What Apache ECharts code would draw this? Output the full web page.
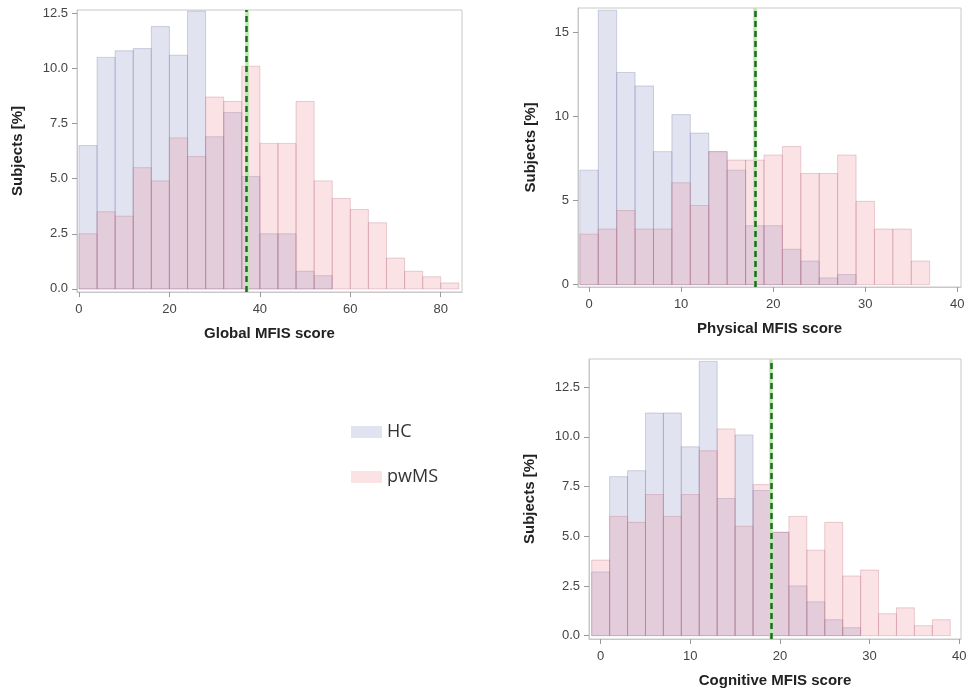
<!DOCTYPE html>
<html>
<head>
<meta charset="utf-8">
<script src="https://cdn.jsdelivr.net/npm/echarts@6/dist/echarts.min.js"></script>
<style>
  html, body { margin: 0; padding: 0; background: #fff; }
  #chart { width: 970px; height: 691px; }
</style>
</head>
<body>
<div id="chart"></div>
<script>
// bin edges (score) and percentages of subjects per bin
var globalEdges = [0, 4, 8, 12, 16, 20, 24, 28, 32, 36, 40, 44, 48, 52, 56, 60, 64, 68, 72, 76, 80, 84];
var globalHC = [6.5, 10.5, 10.8, 10.9, 11.9, 10.6, 12.6, 6.9, 8.0, 5.1, 2.5, 2.5, 0.8, 0.6, 0, 0, 0, 0, 0, 0, 0];
var globalMS = [2.5, 3.5, 3.3, 5.5, 4.9, 6.85, 6.0, 8.7, 8.5, 10.1, 6.6, 6.6, 8.5, 4.9, 4.1, 3.6, 3.0, 1.4, 0.8, 0.55, 0.27];

var physEdges = [-1, 1, 3, 5, 7, 9, 11, 13, 15, 17, 19, 21, 23, 25, 27, 29, 31, 33, 35, 37];
var physHC = [6.8, 16.3, 12.6, 11.8, 7.9, 10.1, 9.0, 7.9, 6.8, 3.5, 3.5, 2.1, 1.4, 0.4, 0.6, 0, 0, 0, 0];
var physMS = [3.0, 3.3, 4.4, 3.3, 3.3, 6.05, 4.7, 7.9, 7.4, 7.4, 7.7, 8.2, 6.6, 6.6, 7.7, 4.95, 3.3, 3.3, 1.4];

var cogEdges = [-1, 1, 3, 5, 7, 9, 11, 13, 15, 17, 19, 21, 23, 25, 27, 29, 31, 33, 35, 37, 39];
var cogHC = [3.2, 8.0, 8.3, 11.2, 11.2, 9.5, 13.8, 6.9, 10.1, 7.3, 5.2, 2.5, 1.7, 0.8, 0.4, 0, 0, 0, 0, 0];
var cogMS = [3.8, 6.0, 5.7, 7.1, 6.0, 7.1, 9.3, 10.4, 5.5, 7.6, 5.2, 6.0, 4.3, 5.7, 3.0, 3.3, 1.1, 1.4, 0.5, 0.8];

// cut-off scores (dashed lines)
var cutoffs = [37, 18, 19];

var titles = ['Global MFIS score', 'Physical MFIS score', 'Cognitive MFIS score'];
var xTicks = [[0, 20, 40, 60, 80], [0, 10, 20, 30, 40], [0, 10, 20, 30, 40]];
var yTicks = [[0, 2.5, 5, 7.5, 10, 12.5], [0, 5, 10, 15], [0, 2.5, 5, 7.5, 10, 12.5]];
var xRange = [[-0.44, 84.7], [-1.2, 40.4], [-1.3, 40.2]];
var yRange = [[-0.14, 12.65], [-0.14, 16.43], [-0.17, 13.92]];

var panels = [
  { edges: globalEdges, hc: globalHC, ms: globalMS },
  { edges: physEdges, hc: physHC, ms: physMS },
  { edges: cogEdges, hc: cogHC, ms: cogMS }
];

var grids = [
  { left: 77, top: 10, width: 385, height: 282 },
  { left: 578, top: 8, width: 383, height: 279 },
  { left: 589, top: 359, width: 372, height: 280 }
];

var HC_FILL = 'rgba(163,170,212,0.33)';
var HC_LINE = 'rgba(115,115,165,0.3)';
var MS_FILL = 'rgba(236,140,152,0.25)';
var MS_LINE = 'rgba(185,110,130,0.3)';

function bins(edges, vals) {
  var out = [];
  for (var i = 0; i < vals.length; i++) {
    if (vals[i] > 0) out.push([edges[i], edges[i + 1], vals[i]]);
  }
  return out;
}

function renderBar(params, api) {
  var p0 = api.coord([api.value(0), 0]);
  var p1 = api.coord([api.value(1), api.value(2)]);
  return {
    type: 'rect',
    shape: { x: p0[0], y: p1[1], width: p1[0] - p0[0], height: p0[1] - p1[1] },
    style: api.style()
  };
}

var labelFont = { fontFamily: 'Liberation Sans', fontSize: 13, color: '#444' };
var nameFont = { fontFamily: 'Liberation Sans', fontSize: 15, fontWeight: 'bold', color: '#222' };

var xAxes = [], yAxes = [], series = [];
panels.forEach(function (p, i) {
  var oneDec = i !== 1;
  xAxes.push({
    type: 'value', gridIndex: i, min: xRange[i][0], max: xRange[i][1],
    name: titles[i], nameLocation: 'middle', nameGap: 34, nameTextStyle: nameFont,
    axisLine: { show: true, onZero: false, lineStyle: { color: '#c8c8c8' } },
    axisTick: { show: true, length: 5, lineStyle: { color: '#999' }, customValues: xTicks[i] },
    axisLabel: Object.assign({ margin: 11, customValues: xTicks[i] }, labelFont),
    splitLine: { show: false }
  });
  yAxes.push({
    type: 'value', gridIndex: i, min: yRange[i][0], max: yRange[i][1],
    name: 'Subjects [%]', nameLocation: 'middle', nameGap: oneDec ? 52 : 40, nameTextStyle: nameFont,
    axisLine: { show: true, onZero: false, lineStyle: { color: '#c8c8c8' } },
    axisTick: { show: true, length: 5, lineStyle: { color: '#999' }, customValues: yTicks[i] },
    axisLabel: Object.assign({
      margin: 9, customValues: yTicks[i],
      formatter: function (v) { return oneDec ? v.toFixed(1) : String(v); }
    }, labelFont),
    splitLine: { show: false }
  });
  series.push({
    name: 'HC', type: 'custom', xAxisIndex: i, yAxisIndex: i,
    renderItem: renderBar, encode: { x: [0, 1], y: 2 },
    itemStyle: { color: HC_FILL, borderColor: HC_LINE, borderWidth: 1 },
    data: bins(p.edges, p.hc)
  });
  series.push({
    name: 'pwMS', type: 'custom', xAxisIndex: i, yAxisIndex: i,
    renderItem: renderBar, encode: { x: [0, 1], y: 2 },
    itemStyle: { color: MS_FILL, borderColor: MS_LINE, borderWidth: 1 },
    data: bins(p.edges, p.ms)
  });
  // cut-off line: light green halo under dark green dashes
  series.push({
    type: 'line', xAxisIndex: i, yAxisIndex: i, data: [], silent: true,
    markLine: {
      symbol: 'none', silent: true, label: { show: false }, animation: false,
      data: [
        { xAxis: cutoffs[i], lineStyle: { color: '#b9e8a8', width: 3.5, type: 'solid' } },
        { xAxis: cutoffs[i], lineStyle: { color: '#1d6b23', width: 2.5, type: [6, 4] } }
      ]
    }
  });
});

var chart = echarts.init(document.getElementById('chart'));
chart.setOption({
  animation: false,
  backgroundColor: '#fff',
  grid: grids.map(function (g) {
    return Object.assign({ show: true, borderColor: '#c8c8c8', borderWidth: 1, backgroundColor: 'transparent' }, g);
  }),
  xAxis: xAxes,
  yAxis: yAxes,
  legend: {
    data: ['HC', 'pwMS'],
    orient: 'vertical', left: 346, top: 416,
    itemWidth: 31, itemHeight: 12, itemGap: 23,
    icon: 'rect',
    itemStyle: { borderWidth: 0 },
    textStyle: { fontFamily: 'Open Sans', fontSize: 18, color: '#333', lineHeight: 22 },
    selectedMode: false
  },
  series: series
});
</script>
</body>
</html>
